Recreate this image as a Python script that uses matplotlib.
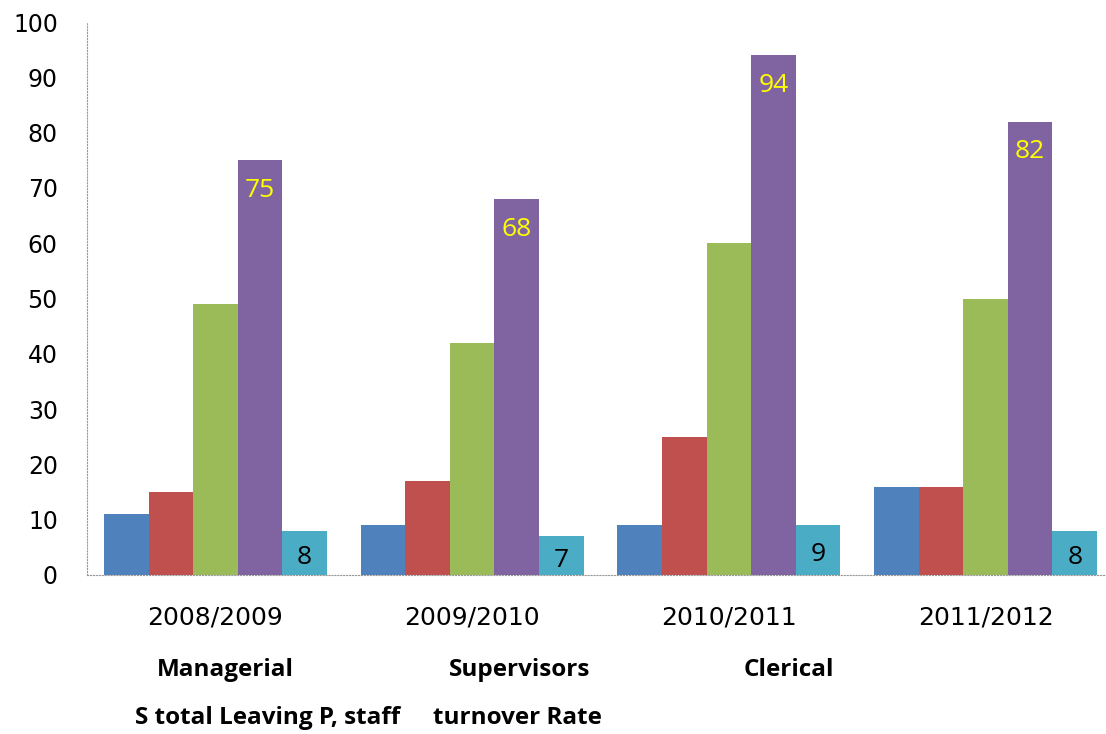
import numpy as np
import matplotlib
matplotlib.use("Agg")
import matplotlib.pyplot as plt

years = ["2008/2009", "2009/2010", "2010/2011", "2011/2012"]
blue = [11, 9, 9, 16]
red = [15, 17, 25, 16]
green = [49, 42, 60, 50]
purple = [75, 68, 94, 82]
cyan = [8, 7, 9, 8]

series = [blue, red, green, purple, cyan]
colors = ["#4F81BD", "#C0504D", "#9BBB59", "#8064A2", "#4BACC6"]

fig = plt.figure(figsize=(11.06, 7.34), dpi=100)
ax = fig.add_axes([87/1106, 159/734, 1027/1106, 553/734])

x = np.arange(len(years))
w = 0.1736
for i, (vals, c) in enumerate(zip(series, colors)):
    pos = x + (i - 2) * w
    bars = ax.bar(pos, vals, width=w, color=c, edgecolor="none")
    if i == 3:
        for b, v in zip(bars, vals):
            ax.text(b.get_x() + w/2, v - 5.5, str(v), ha="center", va="center",
                    color="#FFFF00", fontsize=19, family="Open Sans")
    if i == 4:
        for b, v in zip(bars, vals):
            ax.text(b.get_x() + w/2, v/2 - 0.8, str(v), ha="center", va="center",
                    color="black", fontsize=19, family="Open Sans")

ax.set_xlim(-0.5, 3.5)
ax.set_ylim(0, 100)
ax.set_yticks(range(0, 101, 10))
ax.set_xticks(x)
ax.set_xticklabels(years, family="DejaVu Sans", fontsize=18)
for lab in ax.get_yticklabels():
    lab.set_family("DejaVu Sans")
    lab.set_fontsize(17)
ax.tick_params(axis="y", length=0, pad=21)
ax.tick_params(axis="x", length=0, pad=22)

for s in ["top", "right"]:
    ax.spines[s].set_visible(False)
ax.spines["left"].set_color("#999999")
ax.spines["left"].set_linestyle(":")
ax.spines["bottom"].set_color("#999999")
ax.spines["bottom"].set_linestyle(":")

# legend remnants under the chart
fs = 17.5
fig.text(225/1106, 1 - 670/734, "Managerial", ha="center", va="center",
         fontsize=fs, fontweight="bold", family="Open Sans")
fig.text(520/1106, 1 - 670/734, "Supervisors", ha="center", va="center",
         fontsize=fs, fontweight="bold", family="Open Sans")
fig.text(789/1106, 1 - 670/734, "Clerical", ha="center", va="center",
         fontsize=fs, fontweight="bold", family="Open Sans")
fig.text(135/1106, 1 - 718/734, "S total Leaving P, staff", ha="left", va="center",
         fontsize=fs, fontweight="bold", family="Open Sans")
fig.text(433/1106, 1 - 718/734, "turnover Rate", ha="left", va="center",
         fontsize=fs, fontweight="bold", family="Open Sans")

fig.savefig("out.png", dpi=100)
